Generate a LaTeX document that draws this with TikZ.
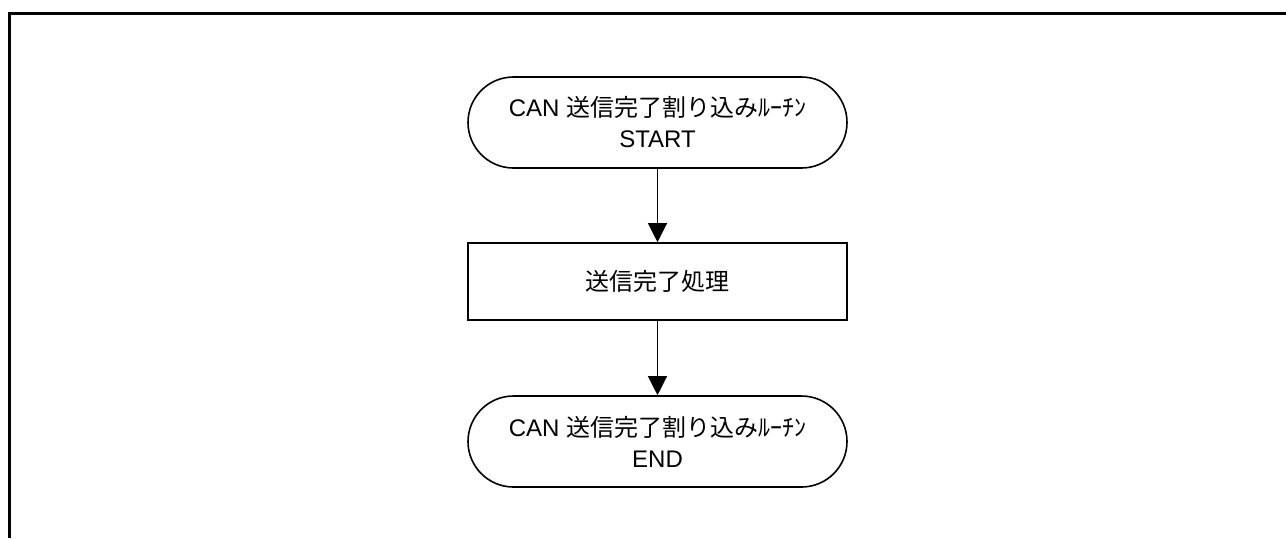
\documentclass[tikz,border=0pt]{standalone}
\usepackage{fontspec}
\setmainfont{Liberation Sans}
\newfontfamily\jpfont{Noto Sans CJK JP}
\usetikzlibrary{arrows.meta}

\begin{document}
\begin{tikzpicture}[x=0.5pt, y=-0.5pt]
    \tikzstyle{every node} = [draw, line width=0.8pt, align=center, font=\fontsize{12}{15.5}\selectfont];
    \tikzstyle{terminal} = [rounded corners=22.75pt, minimum width=189.5pt, minimum height=45.5pt];
    \tikzstyle{process} = [minimum width=189.5pt, minimum height=38.5pt, font=\fontsize{12}{14}\selectfont];
    \tikzstyle{flow} = [line width=0.6pt, -{Triangle[length=9.5pt, width=9.5pt]}];
    \useasboundingbox (0,0) rectangle (1286,538);
    % frame:
    \draw[line width=1.5pt] (9,538) -- (9,13.5) -- (1286,13.5);
    % points:
    \node[terminal] (start) at (657.5,122.5){CAN {\jpfont 送信完了割り込みﾙｰﾁﾝ}\\START};
    \node[process] (proc) at (657.5,281.5){\jpfont 送信完了処理};
    \node[terminal] (end) at (657.5,441.5){CAN {\jpfont 送信完了割り込みﾙｰﾁﾝ}\\END};
    % lines:
    \draw[flow] (start) -- (proc); \draw[flow] (proc) -- (end);
\end{tikzpicture}
\end{document}
